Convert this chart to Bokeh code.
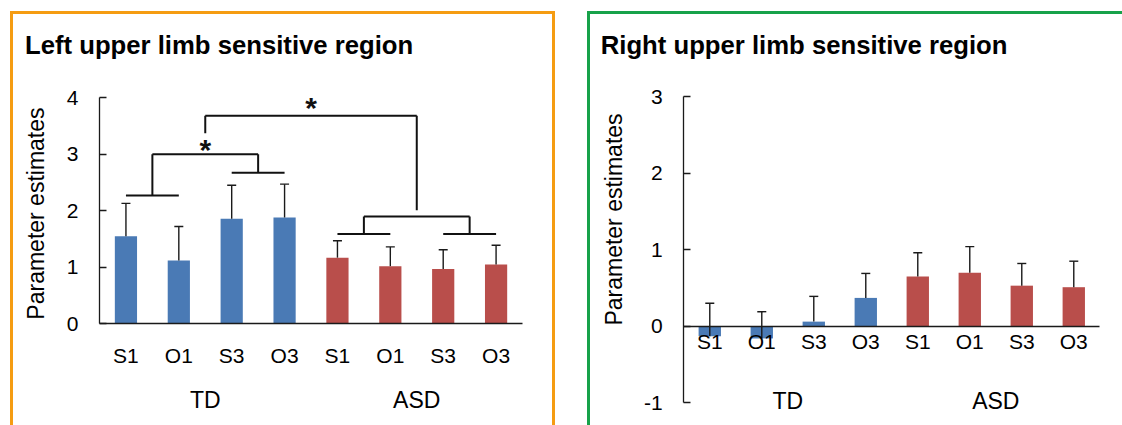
import math
from bokeh.plotting import figure
from bokeh.models import Range1d, LinearAxis, FixedTicker, Label
from bokeh.layouts import row
from bokeh.embed import file_html
from bokeh.resources import INLINE
from bokeh.core.properties import value

# ---------------- data ----------------
conditions = ["S1", "O1", "S3", "O3", "S1", "O1", "S3", "O3"]
groups = ["TD", "ASD"]
bar_group = ["TD", "TD", "TD", "TD", "ASD", "ASD", "ASD", "ASD"]

left_means = [1.55, 1.12, 1.86, 1.88, 1.17, 1.02, 0.97, 1.05]
left_errors = [0.58, 0.60, 0.59, 0.59, 0.30, 0.34, 0.34, 0.34]
right_means = [-0.13, -0.16, 0.06, 0.37, 0.65, 0.70, 0.53, 0.51]
right_errors = [0.43, 0.35, 0.33, 0.32, 0.31, 0.34, 0.29, 0.34]

left_ticks = [0, 1, 2, 3, 4]
right_ticks = [-1, 0, 1, 2, 3]

# significance brackets of the left panel (bar-slot units, value units)
# horizontal pieces: (x_start, x_end, y)
left_h_lines = [(0.5, 1.5, 2.27), (2.5, 3.5, 2.67), (1.0, 3.0, 3.00),
                (4.5, 5.5, 1.59), (6.5, 7.5, 1.59), (5.0, 7.0, 1.90),
                (2.0, 6.0, 3.68)]
# vertical pieces: (x, y_start, y_end)
left_v_lines = [(1.0, 2.27, 3.00), (3.0, 2.67, 3.00),
                (5.0, 1.59, 1.90), (7.0, 1.59, 1.90),
                (2.0, 3.37, 3.68), (6.0, 2.01, 3.68)]
left_stars_x = [2.0, 4.0]
left_stars_y = [3.15, 3.89]

FONT = "Liberation Sans"
BLUE = "#4A7AB5"
RED = "#B94E4B"
ORANGE = "#F59C12"
GREEN = "#17A24A"
INK = "#1a1a1a"
group_color = {"TD": BLUE, "ASD": RED}
Y_TITLE = "Parameter estimates"
N = len(conditions)


def make_panel(title, means, errors, ticks, x_rng, y_rng, width, height,
               group_loc, cat_standoff, bar_width, title_xy, ylabel_xy):
    p = figure(width=width, height=height,
               x_range=Range1d(*x_rng), y_range=Range1d(*y_rng),
               x_axis_type=None, y_axis_type=None,
               output_backend="svg", toolbar_location=None,
               min_border_left=0, min_border_right=0,
               min_border_top=0, min_border_bottom=0)
    p.outline_line_color = None
    p.background_fill_color = "white"
    p.border_fill_color = "white"

    xs = [i + 0.5 for i in range(N)]
    tops = [m + e for m, e in zip(means, errors)]
    colors = [group_color[g] for g in bar_group]

    p.vbar(x=xs, top=means, bottom=0, width=bar_width,
           fill_color=colors, line_color=None)
    p.segment(x0=xs, y0=means, x1=xs, y1=tops, line_color=INK, line_width=1.4)
    p.scatter(x=xs, y=tops, marker="dash", size=9, line_color=INK, line_width=1.4)

    # y axis, standing at the left end of the category scale
    yax = LinearAxis(ticker=FixedTicker(ticks=ticks), bounds=(ticks[0], ticks[-1]),
                     fixed_location=0,
                     major_label_overrides={t: str(t) for t in ticks})
    yax.major_tick_in = 7
    yax.major_tick_out = 0
    yax.minor_tick_line_color = None
    yax.axis_line_color = INK
    yax.axis_line_width = 1.3
    yax.major_tick_line_color = INK
    yax.major_tick_line_width = 1.3
    yax.major_label_standoff = 21
    yax.major_label_text_font = FONT
    yax.major_label_text_font_size = "21px"
    yax.major_label_text_color = "black"
    p.add_layout(yax, "left")

    # category axis, crossing at zero
    xax = LinearAxis(ticker=FixedTicker(ticks=xs), fixed_location=0, bounds=(0, N),
                     major_label_overrides={x: c for x, c in zip(xs, conditions)})
    xax.axis_line_color = INK
    xax.axis_line_width = 1.3
    xax.major_tick_line_color = None
    xax.minor_tick_line_color = None
    xax.major_tick_in = 0
    xax.major_tick_out = 0
    xax.major_label_standoff = cat_standoff
    xax.major_label_text_font = FONT
    xax.major_label_text_font_size = "21px"
    xax.major_label_text_color = "black"
    p.add_layout(xax, "below")

    # group axis
    gx = [2.0, 6.0]
    gax = LinearAxis(ticker=FixedTicker(ticks=gx), fixed_location=group_loc,
                     major_label_overrides={x: g for x, g in zip(gx, groups)})
    gax.axis_line_color = None
    gax.major_tick_line_color = None
    gax.minor_tick_line_color = None
    gax.major_tick_in = 0
    gax.major_tick_out = 0
    gax.major_label_standoff = 0
    gax.major_label_text_font = FONT
    gax.major_label_text_font_size = "23px"
    gax.major_label_text_color = "black"
    p.add_layout(gax, "below")

    # panel title and y-axis title
    p.add_layout(Label(x=title_xy[0], y=title_xy[1], text=title,
                       text_font=FONT, text_font_size="25.7px", text_font_style="bold",
                       text_color="black", text_align="left",
                       text_baseline="alphabetic"))
    p.add_layout(Label(x=ylabel_xy[0], y=ylabel_xy[1], text=Y_TITLE, angle=math.pi / 2,
                       text_font=FONT, text_font_size="23px", text_color="black",
                       text_align="center", text_baseline="alphabetic"))
    return p


p1 = make_panel("Left upper limb sensitive region", left_means, left_errors,
                left_ticks, (-1.6265, 8.567), (-1.798, 5.47), 539, 411,
                -1.119, 20, 0.42, (-1.409, 4.926), (-1.196, 1.95))
for x0, x1, y in left_h_lines:
    p1.segment(x0=[x0], y0=[y], x1=[x1], y1=[y], line_color="#111111", line_width=2)
for x, y0, y1 in left_v_lines:
    p1.segment(x0=[x], y0=[y0], x1=[x], y1=[y1], line_color="#111111", line_width=2)
p1.text(x=left_stars_x, y=left_stars_y, text=["*", "*"], text_font=value(FONT),
        text_font_size="30px", text_font_style="bold", text_align="center",
        text_baseline="middle", text_color="#111111", y_offset=4)

p2 = make_panel("Right upper limb sensitive region", right_means, right_errors,
                right_ticks, (-1.794, 8.437), (-1.298, 4.075), 532, 411,
                -0.809, 4, 0.43, (-1.598, 3.674), (-1.333, 1.395))

p1.styles = {"box-shadow": f"0 0 0 3px {ORANGE}"}
p2.styles = {"box-shadow": f"0 0 0 3px {GREEN}"}
p1.margin = (14, 0, 0, 13)
p2.margin = (14, 0, 0, 38)

layout = row(p1, p2, spacing=0)
open("out.html", "w").write(file_html(layout, INLINE))
